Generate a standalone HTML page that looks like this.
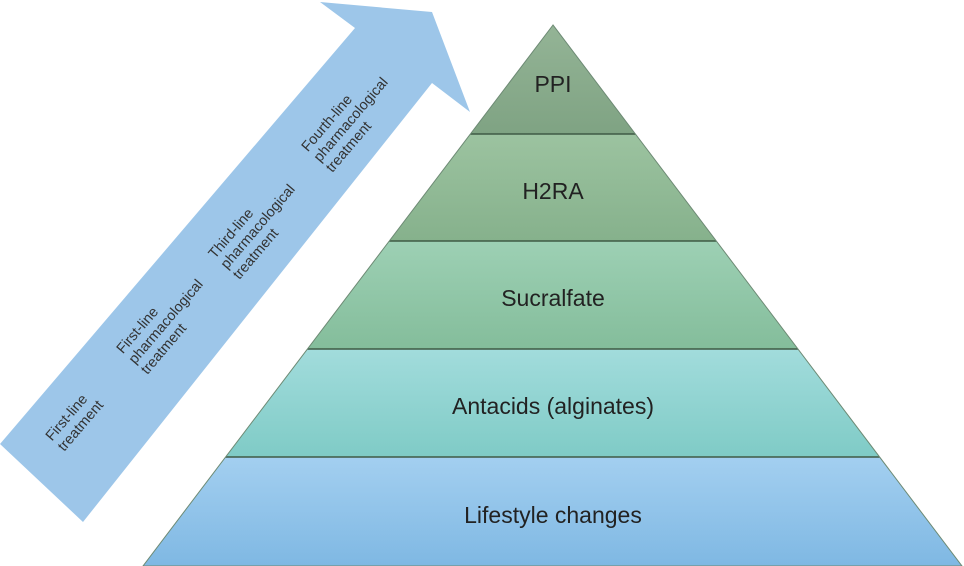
<!DOCTYPE html>
<html><head><meta charset="utf-8"><style>
html,body{margin:0;padding:0;background:#fff;width:964px;height:566px;overflow:hidden}
svg{display:block}
text{font-family:"Liberation Sans",sans-serif}
</style></head><body>
<svg width="964" height="566" viewBox="0 0 964 566" xmlns="http://www.w3.org/2000/svg">
<defs>
<clipPath id="tri"><polygon points="553,25 143,566 962,566"/></clipPath>
<linearGradient id="g1" x1="0" y1="0" x2="0" y2="1"><stop offset="0" stop-color="#94b496"/><stop offset="1" stop-color="#7fa383"/></linearGradient>
<linearGradient id="g2" x1="0" y1="0" x2="0" y2="1"><stop offset="0" stop-color="#9cc3a0"/><stop offset="1" stop-color="#86b18c"/></linearGradient>
<linearGradient id="g3" x1="0" y1="0" x2="0" y2="1"><stop offset="0" stop-color="#9dd0b4"/><stop offset="1" stop-color="#84bd9b"/></linearGradient>
<linearGradient id="g4" x1="0" y1="0" x2="0" y2="1"><stop offset="0" stop-color="#a2dcdc"/><stop offset="1" stop-color="#7fcbc6"/></linearGradient>
<linearGradient id="g5" x1="0" y1="0" x2="0" y2="1"><stop offset="0" stop-color="#a3cff0"/><stop offset="1" stop-color="#7fb8e3"/></linearGradient>
</defs>
<polygon points="0,444 355,28 320,2 432,12 470,112 432,83 83,522" fill="#9dc6e9"/>
<g clip-path="url(#tri)">
<rect x="0" y="25" width="964" height="109" fill="url(#g1)"/>
<rect x="0" y="134" width="964" height="107" fill="url(#g2)"/>
<rect x="0" y="241" width="964" height="108" fill="url(#g3)"/>
<rect x="0" y="349" width="964" height="108" fill="url(#g4)"/>
<rect x="0" y="457" width="964" height="109" fill="url(#g5)"/>
<g stroke="#3f5a45" stroke-width="1.5">
<line x1="0" y1="134" x2="964" y2="134"/>
<line x1="0" y1="241" x2="964" y2="241"/>
<line x1="0" y1="349" x2="964" y2="349"/>
<line x1="0" y1="457" x2="964" y2="457"/>
</g>
</g>
<polygon points="553,25 143,566 962,566" fill="none" stroke="#6d8a74" stroke-width="1"/>
<g font-size="23" fill="#222" text-anchor="middle">
<text x="553" y="92">PPI</text>
<text x="553" y="199">H2RA</text>
<text x="553" y="306">Sucralfate</text>
<text x="553" y="414">Antacids (alginates)</text>
<text x="553" y="523">Lifestyle changes</text>
</g>
<g font-size="14.5" fill="#333">
<g transform="translate(77,417) rotate(-49.5)"><text x="-35" y="-3">First-line</text><text x="-35" y="13">treatment</text></g>
<g transform="translate(165,322) rotate(-49.5)"><text x="-52" y="-11">First-line</text><text x="-52" y="5">pharmacological</text><text x="-52" y="21">treatment</text></g>
<g transform="translate(257,227) rotate(-49.5)"><text x="-52" y="-11">Third-line</text><text x="-52" y="5">pharmacological</text><text x="-52" y="21">treatment</text></g>
<g transform="translate(350,120) rotate(-49.5)"><text x="-52" y="-11">Fourth-line</text><text x="-52" y="5">pharmacological</text><text x="-52" y="21">treatment</text></g>
</g>
</svg>
</body></html>
